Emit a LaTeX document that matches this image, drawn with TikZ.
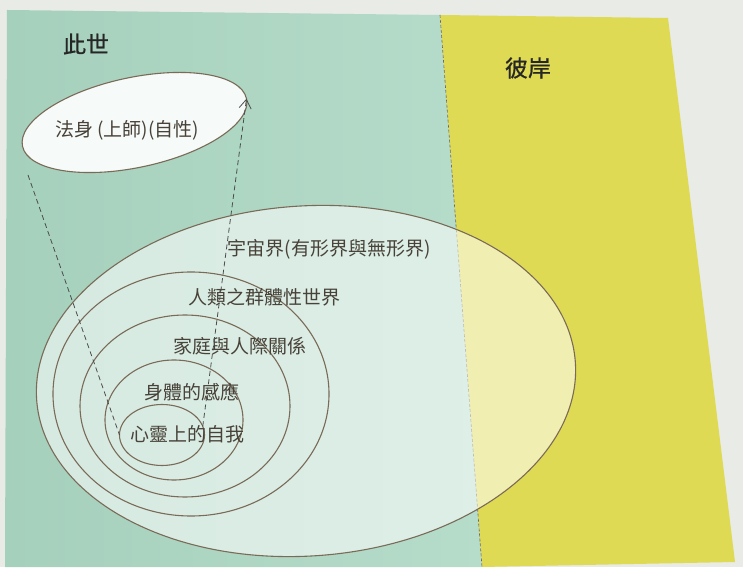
\documentclass[tikz,border=0pt]{standalone}
\usepackage{fontspec}
\newfontfamily\cjk{Noto Sans CJK TC}
\newfontfamily\cjktitle[FakeBold=0.8]{Noto Sans CJK TC}
\usetikzlibrary{shapes.geometric,arrows.meta}
\definecolor{paper}{RGB}{232,235,230}
\definecolor{mint}{RGB}{165,208,188}
\definecolor{mintlight}{RGB}{182,220,202}
\definecolor{lemon}{RGB}{223,218,84}
\definecolor{inkline}{RGB}{122,106,88}
\definecolor{inktext}{RGB}{72,66,56}

\begin{document}
\begin{tikzpicture}[x=1pt,y=1pt,
    ring/.style={ellipse,draw=inkline,line width=1.1pt,inner sep=0pt,outer sep=0pt},
    lbl/.style={text=inktext,font=\cjk\fontsize{19}{19}\selectfont,inner sep=0pt},
    title/.style={text=black!85,font=\cjktitle\fontsize{23}{23}\selectfont,inner sep=0pt},
    link/.style={draw=black!70,line width=0.8pt,dash pattern=on 5pt off 3.5pt}]
  \useasboundingbox (0,0) rectangle (743,567);
  \fill[paper] (0,0) rectangle (743,567);
  \coordinate (divtop) at (440,552);
  \coordinate (divbot) at (482,0);
  \shade[left color=mint,right color=mintlight] (7,557) -- (divtop) -- (divbot) -- (5,0) -- cycle;
  \fill[lemon] (divtop) -- (668,549) -- (735,5) -- (divbot) -- cycle;
  \draw[black!60,line width=0.6pt,dash pattern=on 3pt off 2pt] (divtop) -- (divbot);
  \node[title] (cishi) at (86,523) {此世};
  \node[title] (bian) at (528,499) {彼岸};
  % the world rings
  \node[ring,fill=white,fill opacity=0.55,rotate=4,minimum width=540,minimum height=350] (yuzhou) at (306,186) {};
  \foreach \n/\cx/\cy/\w/\h in {renlei/191/173/276/244,jiating/185/161/210/182,shenti/174/147/138/120,xinling/162/132/85/61}
    \node[ring,minimum width=\w,minimum height=\h] (\n) at (\cx,\cy) {};
  \node[lbl] (yuzhoutext) at (329,318) {宇宙界(有形界與無形界)};
  \node[lbl] (renleitext) at (264,270) {人類之群體性世界};
  \node[lbl] (jiatingtext) at (240,221) {家庭與人際關係};
  \node[lbl] (shentitext) at (192,175) {身體的感應};
  \node[lbl] (xinlingtext) at (187,133) {心靈上的自我};
  % dharma body
  \node[ring,fill=white!90!mint,rotate=12,minimum width=229,minimum height=90] (fashen) at (134.5,444.5) {};
  \node[lbl] (fashentext) at (127,437) {法身 (上師)(自性)};
  \coordinate (fall) at (28,392);
  \draw[link] (fall) -- (xinling.west);
  \draw[link,-{Straight Barb[length=9pt,width=12pt]}] (xinling.12) -- (fashen.east);
\end{tikzpicture}
\end{document}
